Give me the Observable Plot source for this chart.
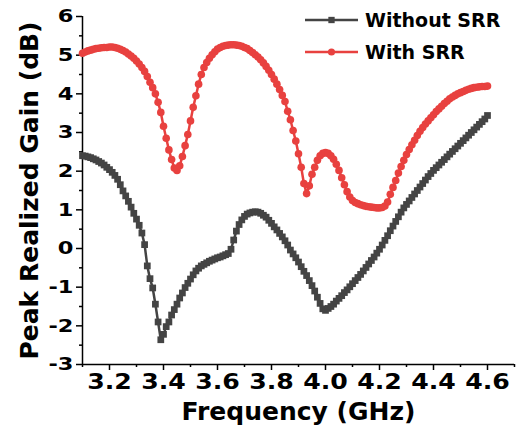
<!DOCTYPE html>
<html>
<head>
<meta charset="utf-8">
<script src="https://cdn.jsdelivr.net/npm/d3@7"></script>
<script src="https://cdn.jsdelivr.net/npm/@observablehq/plot@0.6"></script>
<style>
  html, body { margin: 0; padding: 0; background: #fff; }
  #chart svg { display: block; }
</style>
</head>
<body>
<div id="chart"></div>
<script>
// Frequency grid (GHz): 3.10 to 4.60 in 0.01 steps
const freqStart = 3.10;
const freqStep = 0.01;

const seriesNames = ["Without SRR", "With SRR"];
const seriesColors = ["#444444", "#e8413f"];
const seriesSymbols = ["square", "circle"];

// Peak realized gain (dB), Without SRR
const gainWithout = [
  2.40, 2.39, 2.37, 2.35, 2.32, 2.29, 2.25, 2.21, 2.16, 2.10,
  2.04, 1.97, 1.89, 1.79, 1.65, 1.49, 1.36, 1.22, 1.07, 0.91,
  0.76, 0.60, 0.40, 0.10, -0.45, -0.78, -1.02, -1.44, -1.90, -2.36,
  -2.22, -2.02, -1.90, -1.72, -1.58, -1.44, -1.28, -1.15, -1.01, -0.90,
  -0.79, -0.68, -0.58, -0.51, -0.45, -0.41, -0.37, -0.33, -0.30, -0.27,
  -0.24, -0.22, -0.19, -0.16, -0.13, -0.02, 0.22, 0.45, 0.62, 0.74,
  0.83, 0.89, 0.92, 0.94, 0.95, 0.94, 0.91, 0.86, 0.81, 0.73,
  0.65, 0.56, 0.48, 0.39, 0.30, 0.20, 0.09, -0.04, -0.14, -0.24,
  -0.35, -0.47, -0.59, -0.70, -0.83, -0.96, -1.10, -1.26, -1.42, -1.56,
  -1.60, -1.55, -1.50, -1.44, -1.36, -1.29, -1.22, -1.14, -1.07, -0.99,
  -0.91, -0.83, -0.75, -0.67, -0.58, -0.49, -0.40, -0.31, -0.22, -0.12,
  -0.02, 0.09, 0.21, 0.33, 0.46, 0.58, 0.70, 0.82, 0.94, 1.05,
  1.14, 1.23, 1.32, 1.41, 1.50, 1.59, 1.68, 1.77, 1.86, 1.94,
  2.02, 2.09, 2.16, 2.23, 2.30, 2.37, 2.44, 2.51, 2.58, 2.65,
  2.72, 2.79, 2.86, 2.93, 3.00, 3.07, 3.14, 3.21, 3.28, 3.35,
  3.44
];

// Peak realized gain (dB), With SRR
const gainWith = [
  5.05, 5.08, 5.11, 5.13, 5.15, 5.17, 5.18, 5.19, 5.20, 5.20,
  5.21, 5.21, 5.20, 5.18, 5.15, 5.12, 5.08, 5.03, 4.98, 4.92,
  4.85, 4.77, 4.68, 4.58, 4.45, 4.30, 4.16, 4.00, 3.78, 3.52,
  3.16, 2.85, 2.55, 2.30, 2.08, 2.02, 2.14, 2.38, 2.66, 2.95,
  3.30, 3.65, 3.95, 4.25, 4.50, 4.68, 4.81, 4.92, 5.01, 5.09,
  5.16, 5.20, 5.23, 5.25, 5.26, 5.27, 5.27, 5.26, 5.25, 5.23,
  5.20, 5.17, 5.12, 5.07, 5.01, 4.95, 4.88, 4.80, 4.71, 4.61,
  4.50, 4.38, 4.25, 4.11, 3.96, 3.80, 3.55, 3.33, 3.05, 2.78,
  2.45, 2.10, 1.68, 1.42, 1.62, 1.92, 2.10, 2.28, 2.40, 2.46,
  2.48, 2.46, 2.40, 2.31, 2.18, 2.02, 1.83, 1.65, 1.47, 1.33,
  1.24, 1.19, 1.16, 1.13, 1.11, 1.09, 1.08, 1.07, 1.06, 1.05,
  1.05, 1.06, 1.10, 1.20, 1.40, 1.58, 1.76, 1.95, 2.12, 2.28,
  2.43, 2.56, 2.68, 2.80, 2.92, 3.03, 3.13, 3.22, 3.30, 3.38,
  3.46, 3.54, 3.61, 3.68, 3.75, 3.81, 3.87, 3.92, 3.96, 4.00,
  4.03, 4.06, 4.09, 4.12, 4.14, 4.16, 4.17, 4.18, 4.19, 4.19,
  4.20
];

const xMajorTicks = [3.2, 3.4, 3.6, 3.8, 4.0, 4.2, 4.4, 4.6];
const xMinorTicks = [3.1, 3.3, 3.5, 3.7, 3.9, 4.1, 4.3, 4.5, 4.7];
const yMajorTicks = [-3, -2, -1, 0, 1, 2, 3, 4, 5, 6];
const yMinorTicks = [-2.5, -1.5, -0.5, 0.5, 1.5, 2.5, 3.5, 4.5, 5.5];

const xDomain = [3.1, 4.7];
const yDomain = [-3, 6];
const xTitle = "Frequency (GHz)";
const yTitle = "Peak Realized Gain (dB)";

const data = [];
[gainWithout, gainWith].forEach((arr, s) => {
  arr.forEach((v, i) => {
    data.push({series: seriesNames[s], f: +(freqStart + i * freqStep).toFixed(2), g: v});
  });
});

const FONT = "DejaVu Sans";

const chart = Plot.plot({
  width: 518,
  height: 435,
  marginLeft: 82,
  marginRight: 4,
  marginTop: 16,
  marginBottom: 71,
  style: {fontFamily: FONT, fontWeight: "bold", color: "#000", background: "#fff"},
  x: {domain: xDomain},
  y: {domain: yDomain},
  color: {domain: seriesNames, range: seriesColors},
  symbol: {domain: seriesNames, range: seriesSymbols},
  marks: [
    Plot.ruleX([xDomain[0]], {stroke: "#000", strokeWidth: 1.5}),
    Plot.ruleY([yDomain[0]], {stroke: "#000", strokeWidth: 1.5}),
    Plot.axisY({ticks: yMajorTicks, tickSize: 6, tickPadding: 3, tickFormat: d => d, fontSize: 18, fontWeight: "bold", label: null, strokeWidth: 1.5}),
    Plot.axisY({ticks: yMinorTicks, tickSize: 3, tickFormat: () => "", label: null, strokeWidth: 1.5}),
    Plot.axisX({ticks: xMajorTicks, tickSize: 6, tickPadding: 4, tickFormat: d3.format(".1f"), fontSize: 21, fontWeight: "bold", label: null, strokeWidth: 1.5}),
    Plot.axisX({ticks: xMinorTicks, tickSize: 3, tickFormat: () => "", label: null, strokeWidth: 1.5}),
    Plot.text([xTitle], {frameAnchor: "bottom", dy: 47, fontSize: 25, fontWeight: "bold", lineAnchor: "middle", textAnchor: "middle", fill: "#000"}),
    Plot.text([yTitle], {frameAnchor: "left", dx: -53, rotate: -90, fontSize: 25, fontWeight: "bold", lineAnchor: "middle", textAnchor: "middle", fill: "#000"}),
    Plot.line(data, {x: "f", y: "g", z: "series", stroke: "series", strokeWidth: 2.5}),
    Plot.dot(data, {x: "f", y: "g", fill: "series", symbol: "series", r: 3.8, stroke: null})
  ]
});

document.getElementById("chart").appendChild(chart);

const svg = d3.select(chart);

// widen tick label glyphs (the reference uses a broad, heavy face)
function widen(el, s) {
  const w = el.getComputedTextLength();
  el.setAttribute("textLength", (w * s).toFixed(1));
  el.setAttribute("lengthAdjust", "spacingAndGlyphs");
}
svg.selectAll('g[aria-label="y-axis tick label"] text').each(function() { widen(this, 1.25); });
svg.selectAll('g[aria-label="x-axis tick label"] text').each(function() { widen(this, 1.2); });

// Legend in the upper right of the plot area
const leg = svg.append("g").attr("font-family", FONT).attr("font-weight", "bold");
seriesNames.forEach((name, i) => {
  const y = 20 + i * 32;
  const g = leg.append("g").attr("transform", `translate(305,${y})`);
  g.append("line").attr("x1", 0).attr("x2", 53).attr("y1", 0).attr("y2", 0)
    .attr("stroke", seriesColors[i]).attr("stroke-width", 2.5);
  g.append("path").attr("transform", "translate(26.5,0)")
    .attr("d", d3.symbol(i === 0 ? d3.symbolSquare : d3.symbolCircle, 40)())
    .attr("fill", seriesColors[i]);
  g.append("text").attr("x", 60).attr("y", 0).attr("dy", "0.36em")
    .attr("text-anchor", "start")
    .style("font-size", "19px").attr("fill", "#000").text(name);
});
</script>
</body>
</html>
